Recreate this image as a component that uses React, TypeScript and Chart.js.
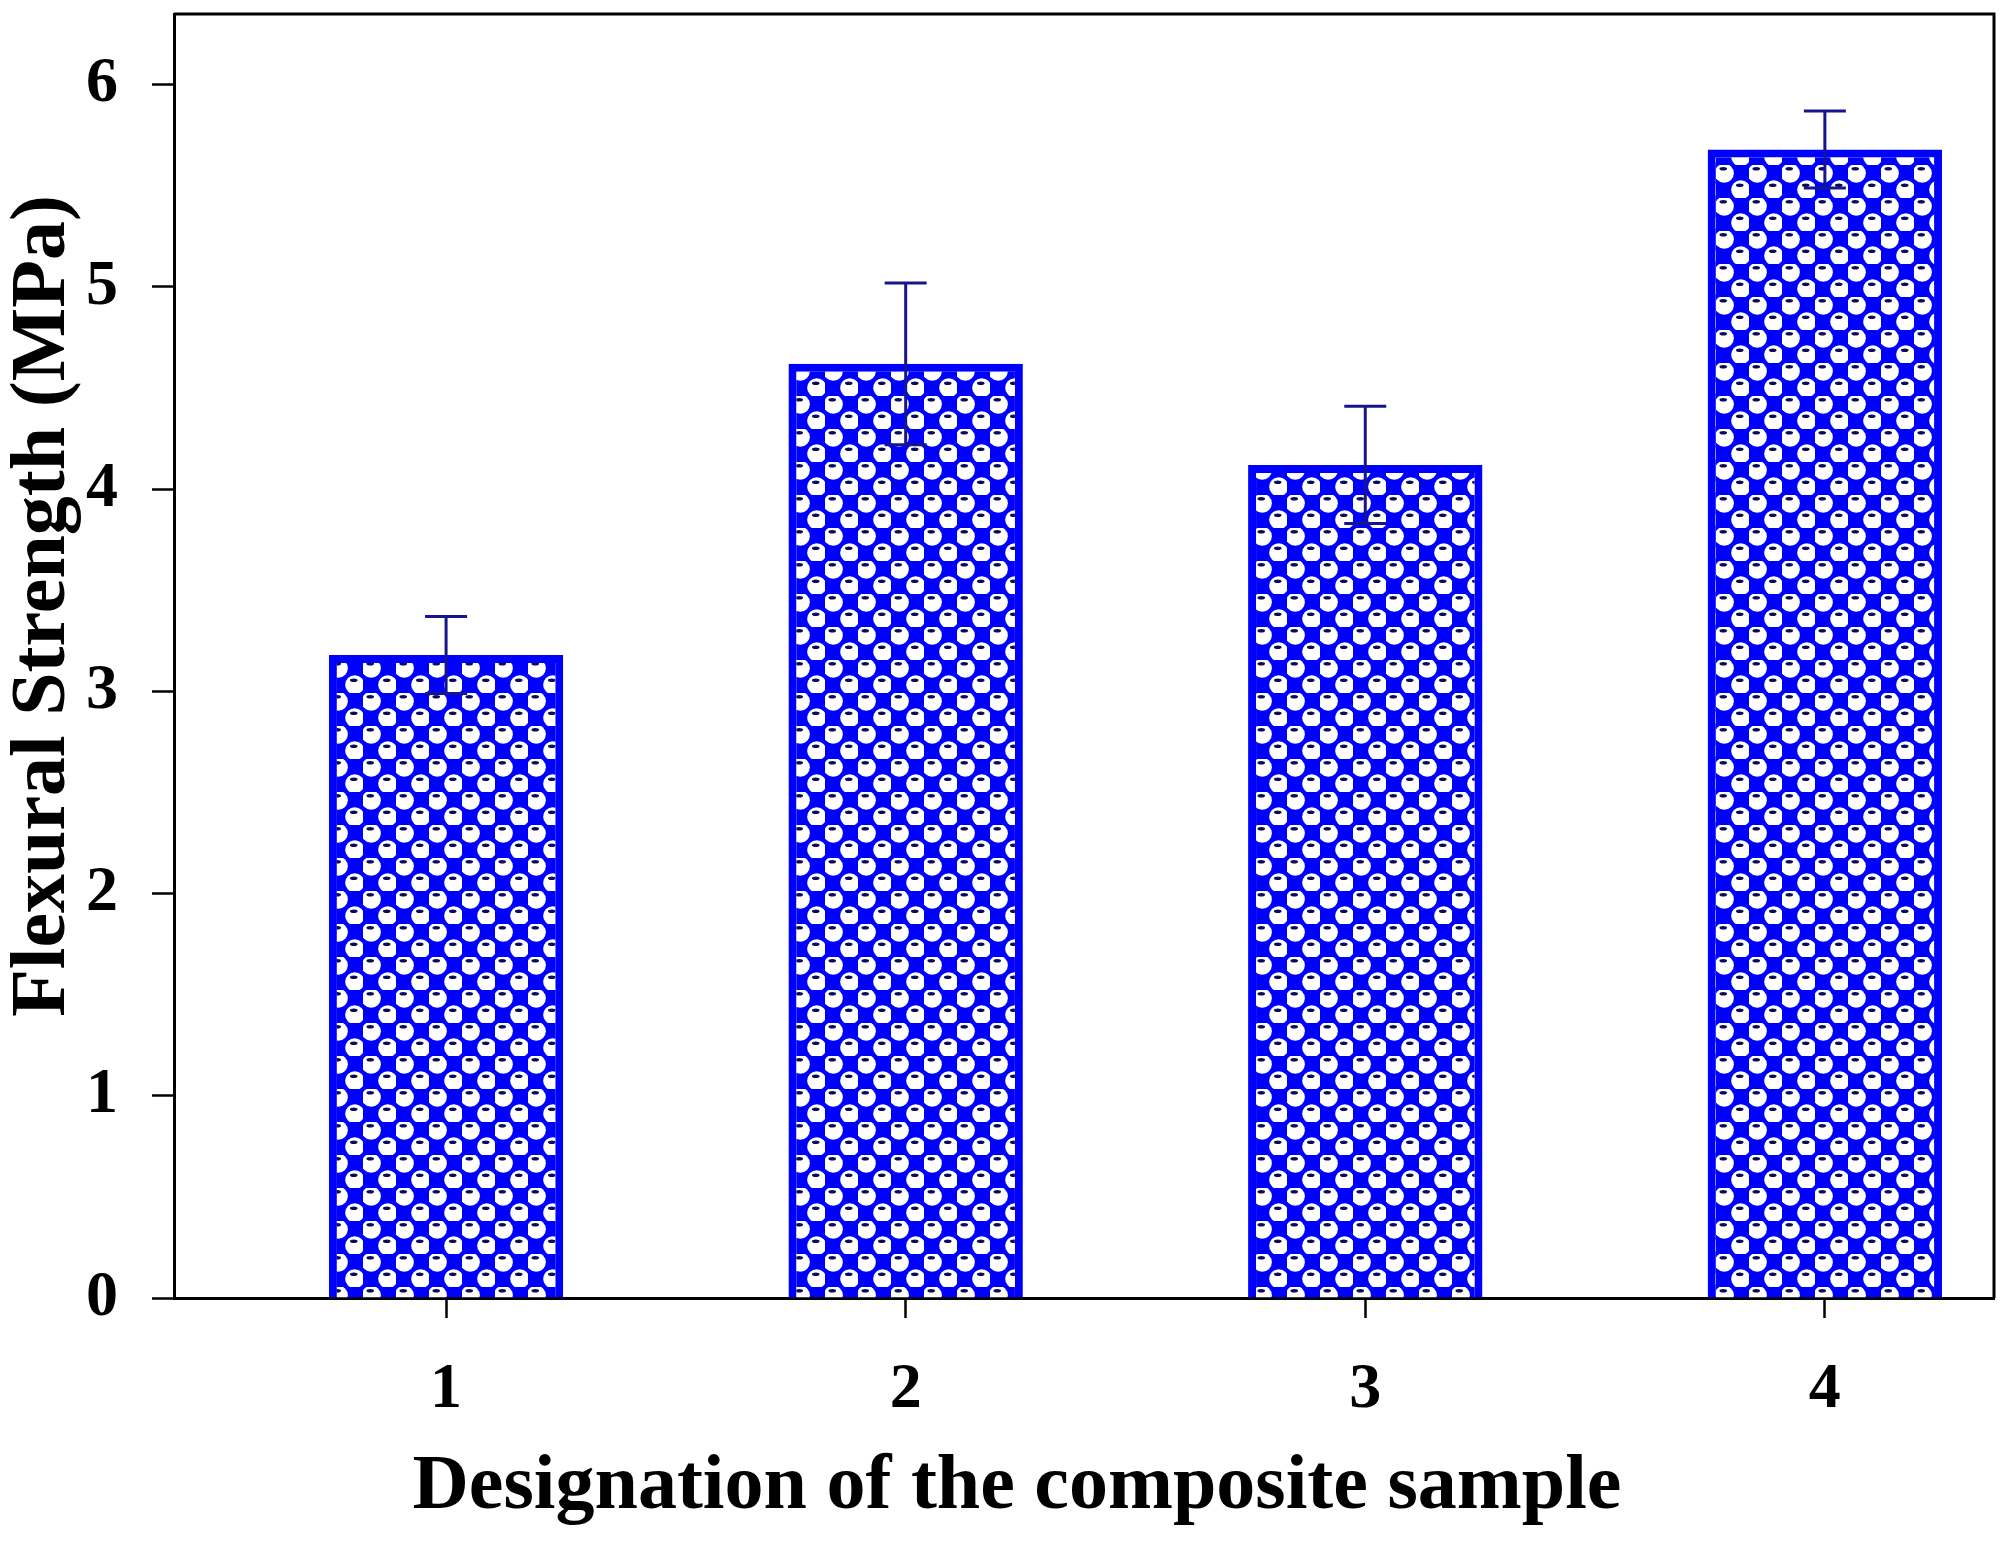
import React, { useEffect, useRef } from 'react';
import { Chart, registerables } from 'chart.js';

Chart.register(...registerables);

// flexural strength per composite sample
const samples = [1, 2, 3, 4];
const strength = [3.18, 4.62, 4.12, 5.68];
const strengthErr = [0.19, 0.4, 0.29, 0.19];
const yTicks = [0, 1, 2, 3, 4, 5, 6];

const serif = "'Liberation Serif', 'Times New Roman', serif";

// blue checker with white dots, like the sigmaplot fill
function makeDotPattern(ctx: CanvasRenderingContext2D) {
    const s = 33;
    const h = s / 2;
    const tile = document.createElement('canvas');
    tile.width = s;
    tile.height = s;
    const t = tile.getContext('2d')!;
    t.fillStyle = '#0000ff';
    t.fillRect(0, 0, s, s);
    const centers = [[h / 2, h / 2], [h / 2 + h, h / 2 + h]];
    t.fillStyle = '#ffffff';
    centers.forEach(([cx, cy]) => {
        t.beginPath();
        t.arc(cx, cy, 9.6, 0, Math.PI * 2);
        t.fill();
    });
    t.fillStyle = '#0a0a58';
    centers.forEach(([cx, cy]) => {
        t.beginPath();
        t.ellipse(cx - 1, cy - 4.5, 3.8, 1.8, 0, 0, Math.PI * 2);
        t.fill();
    });
    return ctx.createPattern(tile, 'repeat')!;
}

const errorBars = {
    id: 'errorBars',
    afterDatasetsDraw(chart: any) {
        const { ctx } = chart;
        const y = chart.scales.y;
        const meta = chart.getDatasetMeta(0);
        ctx.save();
        ctx.strokeStyle = '#16168c';
        ctx.lineWidth = 3;
        meta.data.forEach((bar: any, i: number) => {
            const hi = y.getPixelForValue(strength[i] + strengthErr[i]);
            const lo = y.getPixelForValue(strength[i] - strengthErr[i]);
            ctx.beginPath();
            ctx.moveTo(bar.x, hi);
            ctx.lineTo(bar.x, lo);
            ctx.moveTo(bar.x - 21, hi);
            ctx.lineTo(bar.x + 21, hi);
            ctx.moveTo(bar.x - 21, lo);
            ctx.lineTo(bar.x + 21, lo);
            ctx.stroke();
        });
        ctx.restore();
    },
};

const frameAndTitles = {
    id: 'frameAndTitles',
    afterDraw(chart: any) {
        const { ctx, chartArea } = chart;
        ctx.save();
        ctx.strokeStyle = '#000';
        ctx.lineWidth = 3;
        ctx.beginPath();
        ctx.moveTo(chartArea.left, chartArea.top);
        ctx.lineTo(chartArea.right, chartArea.top);
        ctx.lineTo(chartArea.right, chartArea.bottom);
        ctx.stroke();

        ctx.fillStyle = '#000';
        ctx.font = `bold 78px ${serif}`;
        ctx.textAlign = 'center';
        ctx.textBaseline = 'alphabetic';
        ctx.fillText('Designation of the composite sample', 1017, 1508);

        ctx.translate(64, 606);
        ctx.rotate(-Math.PI / 2);
        ctx.fillText('Flexural Strength (MPa)', 0, 0);
        ctx.restore();
    },
};

const App = () => {
    const chartRef = useRef<HTMLCanvasElement>(null);

    useEffect(() => {
        const canvas = chartRef.current!;
        const ctx = canvas.getContext('2d')!;
        const fill = makeDotPattern(ctx);

        const chartInstance = new Chart(canvas, {
            type: 'bar',
            data: {
                datasets: [{
                    data: samples.map((s, i) => ({ x: s, y: strength[i] })),
                    backgroundColor: fill,
                    borderColor: '#0000ff',
                    borderWidth: 8,
                    barPercentage: 0.51,
                    categoryPercentage: 1,
                }],
            },
            options: {
                animation: false,
                responsive: false,
                devicePixelRatio: 1,
                layout: { padding: { top: 14, right: 10, left: 0, bottom: 0 } },
                plugins: {
                    legend: { display: false },
                    tooltip: { enabled: false },
                },
                scales: {
                    x: {
                        type: 'linear',
                        min: 0.408,
                        max: 4.368,
                        offset: false,
                        afterFit: (scale: any) => {
                            scale.height = 244;
                            scale.paddingLeft = 0;
                            scale.paddingRight = 0;
                        },
                        afterBuildTicks: (scale: any) => {
                            scale.ticks = samples.map((v) => ({ value: v }));
                        },
                        border: { display: true, color: '#000', width: 3 },
                        grid: {
                            offset: false,
                            drawOnChartArea: false,
                            drawTicks: true,
                            tickLength: 20,
                            tickWidth: 2.5,
                            tickColor: '#000',
                        },
                        ticks: {
                            color: '#000',
                            padding: 34,
                            font: { family: serif, size: 64, weight: 'bold' },
                        },
                    },
                    y: {
                        min: 0,
                        max: 6.35,
                        afterFit: (scale: any) => {
                            scale.width = 174;
                            scale.paddingTop = 0;
                            scale.paddingBottom = 0;
                        },
                        afterBuildTicks: (scale: any) => {
                            scale.ticks = yTicks.map((v) => ({ value: v }));
                        },
                        border: { display: true, color: '#000', width: 3 },
                        grid: {
                            drawOnChartArea: false,
                            drawTicks: true,
                            tickLength: 22,
                            tickWidth: 2.5,
                            tickColor: '#000',
                        },
                        ticks: {
                            color: '#000',
                            padding: 34,
                            font: { family: serif, size: 64, weight: 'bold' },
                        },
                    },
                },
            },
            plugins: [errorBars, frameAndTitles],
        } as any);

        return () => {
            chartInstance.destroy();
        };
    }, []);

    return (
        <div style={{ position: 'absolute', left: 0, top: 0, width: 2004, height: 1542, background: '#fff' }}>
            <canvas ref={chartRef} width={2004} height={1542} style={{ width: 2004, height: 1542 }} />
        </div>
    );
};

export default App;
